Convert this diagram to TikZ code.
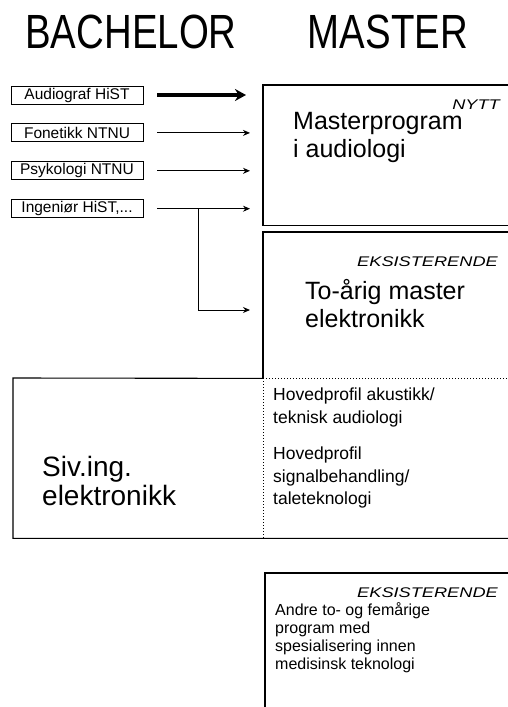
\documentclass[tikz,border=0pt]{standalone}
\usepackage{graphicx}
\usepackage{fontspec}
\setmainfont{Liberation Sans}
\usetikzlibrary{positioning,calc,arrows.meta}

\newcommand{\tagtext}[1]{\scalebox{1.3}[1]{\itshape #1}}

\begin{document}
\begin{tikzpicture}[
            x=1pt, y=-1pt,
            node distance=19pt,
            srcbox/.style={rectangle, draw, line width=0.9pt, minimum width=132pt, minimum height=18pt, inner sep=0pt, font=\fontsize{15.5}{17}\selectfont},
            area/.style={rectangle, inner sep=0pt, anchor=north west},
            boxline/.style={line width=1.1pt},
            dotline/.style={line width=1pt, dotted},
            arrow/.style={-{Stealth[length=7pt,width=6pt]}, line width=0.9pt, shorten <=14pt, shorten >=13pt},
            bigarrow/.style={-{Stealth[length=11pt,width=12pt]}, line width=4.5pt, shorten <=14pt, shorten >=17pt},
            tag/.style={anchor=base east, inner sep=0pt, font=\fontsize{14}{16}\selectfont},
            bodytext/.style={anchor=north west, inner sep=0pt, align=left}
        ]
            \useasboundingbox (0,0) rectangle (508,707);

            % headings
            \node[font=\fontsize{48}{50}\selectfont] (bachelor) at (131,32) {\scalebox{0.8}[1]{BACHELOR}};
            \node[font=\fontsize{48}{50}\selectfont] (master) at (388,32) {\scalebox{0.8}[1]{MASTER}};

            % bachelor programmes
            \node[srcbox] (audiograf) at (77,95) {Audiograf HiST};
            \node[srcbox, below=of audiograf] (fonetikk) {Fonetikk NTNU};
            \node[srcbox, below=of fonetikk] (psykologi) {Psykologi NTNU};
            \node[srcbox, below=of psykologi] (ingenior) {Ingeniør HiST,...};

            % master areas
            \node[area, minimum width=257pt, minimum height=140pt] (nytt) at (263,85) {};
            \node[area, minimum width=257pt, minimum height=146pt] (toarig) at (263,232) {};
            \node[area, minimum width=507pt, minimum height=160pt] (sivbox) at (13,378) {};
            \node[area, minimum width=255pt, minimum height=150pt] (andre) at (265,573) {};

            \draw[boxline] (nytt.north west) rectangle (nytt.south east);
            \draw[boxline] (toarig.south west) -- (toarig.north west) -- (toarig.north east);
            \draw[dotline] (toarig.south west) -- (toarig.south east);
            \draw[boxline] (toarig.south west) -- (sivbox.north west) -- (sivbox.south west) -- (sivbox.south east);
            \draw[dotline] (toarig.south west) -- (toarig.south west |- sivbox.south);
            \draw[boxline] (andre.north west) rectangle (andre.south east);

            % texts
            \node[tag] (nyttag) at (500,109) {\tagtext{NYTT}};
            \node[bodytext, font=\fontsize{25}{28}\selectfont] (nyttname) at (293,112) {Masterprogram\\i audiologi};
            \node[tag] (toarigtag) at (498,266) {\tagtext{EKSISTERENDE}};
            \node[bodytext, font=\fontsize{25}{28}\selectfont] (toarigname) at (305,279) {To-årig master\\elektronikk};
            \node[bodytext, font=\fontsize{28}{29}\selectfont] (sivname) at (42,456) {Siv.ing.\\elektronikk};
            \node[bodytext, font=\fontsize{17.5}{22.5}\selectfont] (profiles) at (273,388) {Hovedprofil akustikk/\\teknisk audiologi\\[14pt]Hovedprofil\\signalbehandling/\\taleteknologi};
            \node[tag] (andretag) at (498,597) {\tagtext{EKSISTERENDE}};
            \node[bodytext, font=\fontsize{16}{18}\selectfont] (andrename) at (275,602) {Andre to- og femårige\\program med\\spesialisering innen\\medisinsk teknologi};

            % arrows
            \coordinate (split) at (198,310);
            \draw[bigarrow] (audiograf) -- (audiograf -| nytt.west);
            \draw[arrow] (fonetikk) -- (fonetikk -| nytt.west);
            \draw[arrow] (psykologi) -- (psykologi -| nytt.west);
            \draw[arrow] (ingenior) -- (ingenior -| nytt.west);
            \draw[arrow, shorten <=0pt] (split |- ingenior) |- (split -| toarig.west);
        \end{tikzpicture}
\end{document}
